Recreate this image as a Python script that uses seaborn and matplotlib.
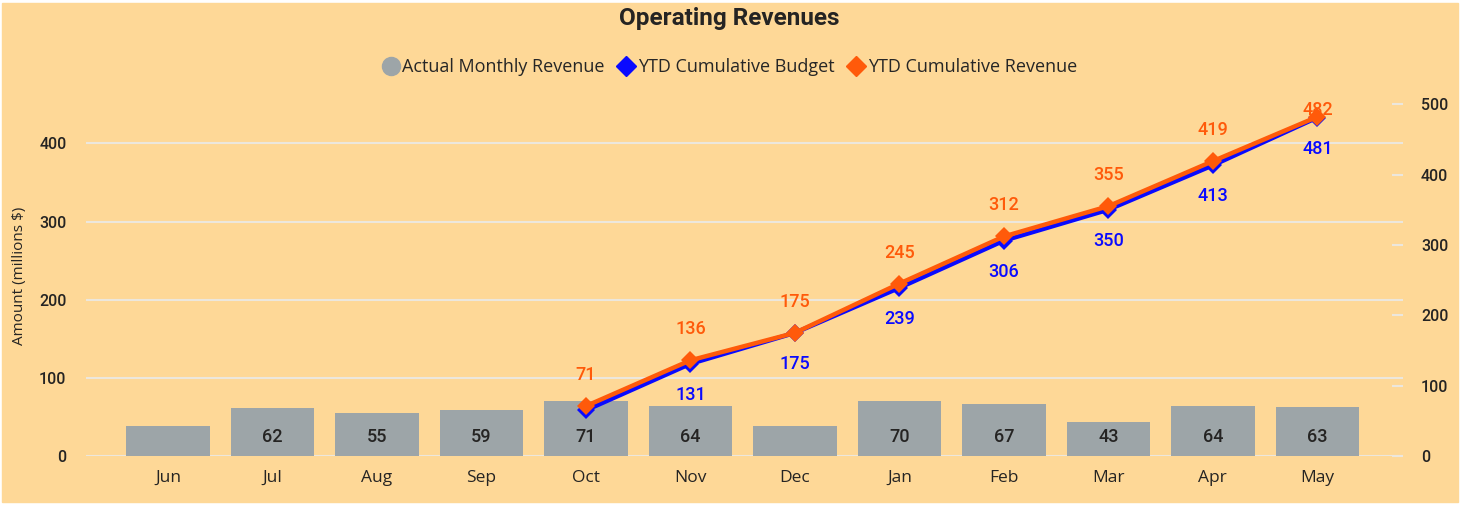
import pandas as pd
import seaborn as sns
from matplotlib import pyplot
from matplotlib.patches import Rectangle
from matplotlib.lines import Line2D

# data ###########################
months = ["Jun", "Jul", "Aug", "Sep", "Oct", "Nov", "Dec", "Jan", "Feb", "Mar", "Apr", "May"]
actual_monthly = [38, 62, 55, 59, 71, 64, 39, 70, 67, 43, 64, 63]
bar_label_shown = [False, True, True, True, True, True, False, True, True, True, True, True]
ytd_months = ["Oct", "Nov", "Dec", "Jan", "Feb", "Mar", "Apr", "May"]
ytd_budget = [65, 131, 175, 239, 306, 350, 413, 481]
budget_label_shown = [False, True, True, True, True, True, True, True]
ytd_revenue = [71, 136, 175, 245, 312, 355, 419, 482]
##################################

bg = "#FED897"
bar_col = "#9DA5A8"
blue = "#0A0AFF"
orange = "#FF5A0A"
grid_col = "#ECE7DD"
txt = "#252423"

sns.set_style("white")
pyplot.rcParams["font.family"] = ["Roboto", "DejaVu Sans"]

fig = pyplot.figure(figsize=(14.68, 5.05), dpi=100, facecolor="white")
fig.patches.append(Rectangle((2 / 1468, 3 / 505), 1456 / 1468, 499 / 505,
                             transform=fig.transFigure, color=bg, zorder=-10))

ax = fig.add_axes([86 / 1468, 1 - 456 / 505, 1317 / 1468, 361 / 505])
ax.set_facecolor("none")

df = pd.DataFrame({"month": months, "actual": actual_monthly})
sns.barplot(data=df, x="month", y="actual", color=bar_col, width=0.8,
            saturation=1, linewidth=0, ax=ax, zorder=2)
for i, (v, show) in enumerate(zip(actual_monthly, bar_label_shown)):
    if show:
        ax.text(i, 24, str(v), ha="center", va="center", fontsize=13,
                fontweight="medium", color=txt, zorder=5)

ax.set_xlim(-0.785, 11.82)
ax.set_ylim(0, 462)
ax.set_yticks([0, 100, 200, 300, 400])
ax.yaxis.grid(True, color=grid_col, linewidth=1.5)
ax.set_axisbelow(True)
for s in ax.spines.values():
    s.set_visible(False)
ax.tick_params(axis="both", length=0, labelsize=11.5, colors=txt)
ax.tick_params(axis="y", pad=14)
ax.tick_params(axis="x", pad=10)
for lab in ax.get_xticklabels():
    lab.set_fontfamily(["Open Sans", "DejaVu Sans"])
    lab.set_fontsize(12.5)
for lab in ax.get_yticklabels():
    lab.set_fontweight("medium")
ax.set_xlabel("")
ax.set_ylabel("Amount (millions $)", fontsize=11, color=txt,
              fontfamily=["Open Sans", "DejaVu Sans"], labelpad=9)

# cumulative lines on right axis
ax2 = ax.twinx()
pos = {m: i for i, m in enumerate(months)}
ytd = pd.DataFrame({"pos": [pos[m] for m in ytd_months],
                    "budget": ytd_budget, "revenue": ytd_revenue})
sns.lineplot(data=ytd, x="pos", y="budget", color=blue, linewidth=3.2,
             marker="D", markersize=9, markeredgewidth=0, ax=ax2, zorder=3)
sns.lineplot(data=ytd, x="pos", y="revenue", color=orange, linewidth=3.2,
             marker="D", markersize=9, markeredgewidth=0, ax=ax2, zorder=4)

ax2.set_ylim(0, 513)
# label offset of ~31 px, clipped so labels stay inside the plot area
off = 31 / 0.703
top_lim = 491
for x, b, r, show in zip(ytd["pos"], ytd_budget, ytd_revenue, budget_label_shown):
    ax2.text(x, min(r + off, top_lim), str(r), ha="center", va="center",
             color=orange, fontsize=13, fontweight="medium", zorder=6)
    if show:
        ax2.text(x, b - off, str(b), ha="center", va="center",
                 color=blue, fontsize=13, fontweight="medium", zorder=6)

ax2.set_yticks([0, 100, 200, 300, 400, 500])
ax2.set_xlim(-0.785, 11.82)
for s in ax2.spines.values():
    s.set_visible(False)
ax2.tick_params(axis="y", direction="in", length=8, width=1.5, color=grid_col,
                labelcolor=txt, labelsize=11.5, pad=13)
for lab in ax2.get_yticklabels():
    lab.set_fontweight("medium")
ax2.set_ylabel("")
ax2.set_xlabel("")

fig.text(0.497, 1 - 18 / 505, "Operating Revenues", ha="center", va="center",
         fontsize=17.5, fontweight="bold", color=txt)

handles = [
    Line2D([], [], linestyle="", marker="o", markersize=13, color=bar_col),
    Line2D([], [], linestyle="", marker="D", markersize=10, color=blue),
    Line2D([], [], linestyle="", marker="D", markersize=10, color=orange),
]
fig.legend(handles, ["Actual Monthly Revenue", "YTD Cumulative Budget", "YTD Cumulative Revenue"],
           loc="center", bbox_to_anchor=(0.496, 1 - 67 / 505), ncol=3, frameon=False,
           handletextpad=0.0, columnspacing=0.55, handlelength=1.3,
           prop={"family": ["Open Sans", "DejaVu Sans"], "size": 13})

pyplot.savefig("out.png", dpi=100, facecolor="white")
